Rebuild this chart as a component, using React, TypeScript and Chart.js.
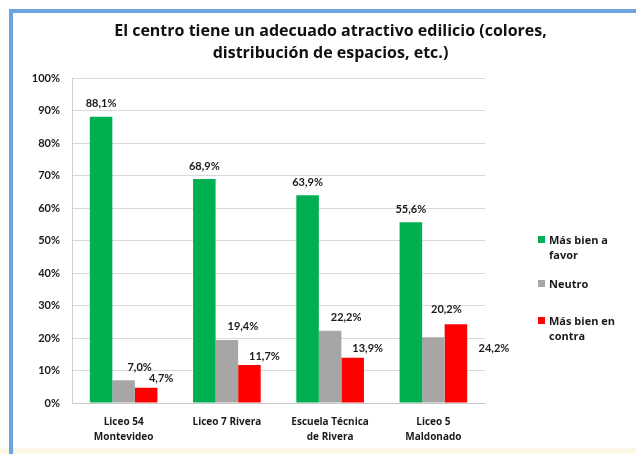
import React, { useEffect, useRef } from "react";
import { Chart, registerables } from "chart.js";

Chart.register(...registerables);

const CATEGORIES: string[][] = [
  ["Liceo 54", "Montevideo"],
  ["Liceo 7 Rivera"],
  ["Escuela Técnica", "de Rivera"],
  ["Liceo 5", "Maldonado"],
];
const SERIES_NAMES = ["Más bien a favor", "Neutro", "Más bien en contra"];
const FAVOR = [88.1, 68.9, 63.9, 55.6];
const NEUTRO = [7.0, 19.4, 22.2, 20.2];
const CONTRA = [4.7, 11.7, 13.9, 24.2];
const Y_TICKS = [0, 10, 20, 30, 40, 50, 60, 70, 80, 90, 100];
const TITLE_LINES = [
  "El centro tiene un adecuado atractivo edilicio (colores,",
  "distribución de espacios, etc.)",
];

const COLORS = ["#00b050", "#a6a6a6", "#ff0000"];
const FONT = "Lato, 'Open Sans', sans-serif";
const WIDE_FONT = "'Open Sans', Lato, sans-serif";

const fmt = (v: number) => v.toFixed(1).replace(".", ",") + "%";

const labelPlugin = {
  id: "barLabels",
  afterDatasetsDraw(chart: any) {
    const ctx = chart.ctx;
    ctx.save();
    ctx.font = `bold 11px ${FONT}`;
    ctx.fillStyle = "#1a1a1a";
    ctx.textAlign = "center";
    ctx.textBaseline = "middle";
    chart.data.datasets.forEach((ds: any, di: number) => {
      const meta = chart.getDatasetMeta(di);
      meta.data.forEach((bar: any, i: number) => {
        const v = ds.data[i];
        const last = i === ds.data.length - 1;
        let dx = 0;
        let dy = -13;
        if (di === 1) {
          dx = 16;
          dy = last ? -28 : -13;
          if (last) dx = 13;
        } else if (di === 2) {
          dx = 15;
          dy = -9;
          if (last) {
            dx = 38;
            dy = 24;
          }
        }
        ctx.fillText(fmt(v), bar.x + dx, bar.y + dy);
      });
    });
    ctx.restore();
  },
};

export default function App() {
  const ref = useRef<HTMLCanvasElement | null>(null);

  useEffect(() => {
    document.body.style.margin = "0";
    if (!ref.current) return;
    const chart = new Chart(ref.current, {
      type: "bar",
      data: {
        labels: CATEGORIES,
        datasets: [FAVOR, NEUTRO, CONTRA].map((d, i) => ({
          label: SERIES_NAMES[i],
          data: d,
          backgroundColor: COLORS[i],
          borderWidth: 0,
          categoryPercentage: 0.655,
          barPercentage: 1,
        })),
      },
      options: {
        animation: false,
        responsive: false,
        maintainAspectRatio: false,
        layout: { padding: { top: 78, right: 151, left: 0, bottom: 0 } },
        plugins: {
          legend: { display: false },
          title: { display: false },
          tooltip: { enabled: false },
        },
        scales: {
          x: {
            grid: { display: false, drawTicks: false },
            border: { display: true, color: "#c8c8c8" },
            ticks: {
              padding: 12,
              color: "#1a1a1a",
              font: { family: WIDE_FONT, size: 10, weight: "bold", lineHeight: 1.5 },
              maxRotation: 0,
              autoSkip: false,
            },
            afterFit: (s: any) => {
              s.height = 51;
            },
          },
          y: {
            min: 0,
            max: 100,
            afterBuildTicks: (s: any) => {
              s.ticks = Y_TICKS.map((v) => ({ value: v }));
            },
            grid: { color: "#d9d9d9", drawTicks: false },
            border: { display: true, color: "#d0d0d0" },
            ticks: {
              padding: 12,
              color: "#1a1a1a",
              font: { family: FONT, size: 11, weight: "bold" },
              callback: (v: any) => v + "%",
            },
            afterFit: (s: any) => {
              s.width = 72;
            },
          },
        },
      },
      plugins: [labelPlugin],
    });
    return () => chart.destroy();
  }, []);

  return (
    <div
      style={{
        position: "fixed",
        left: 0,
        top: 0,
        width: 636,
        height: 454,
        background: "#ffffff",
        overflow: "hidden",
        fontFamily: WIDE_FONT,
      }}
    >
      <div
        style={{
          position: "absolute",
          left: 0,
          top: 448,
          width: 636,
          height: 6,
          background: "#fdf8e6",
        }}
      />
      <div
        style={{
          position: "absolute",
          left: 9,
          top: 9,
          width: 636,
          height: 454,
          borderLeft: "4px solid #6fa3de",
          borderTop: "4px solid #6fa3de",
          boxSizing: "border-box",
        }}
      />
      <canvas
        ref={ref}
        width={636}
        height={454}
        style={{ position: "absolute", left: 0, top: 0 }}
      />
      <div
        style={{
          position: "absolute",
          left: 25,
          top: 19,
          width: 611,
          textAlign: "center",
          fontWeight: "bold",
          fontSize: 16,
          lineHeight: "22px",
          color: "#111",
        }}
      >
        {TITLE_LINES.map((t, i) => (
          <div key={i}>{t}</div>
        ))}
      </div>
      <div
        style={{
          position: "absolute",
          left: 538,
          top: 232,
          width: 92,
          fontSize: 11,
          fontWeight: "bold",
          color: "#1a1a1a",
          lineHeight: "15px",
        }}
      >
        {SERIES_NAMES.map((n, i) => (
          <div
            key={i}
            style={{
              display: "flex",
              alignItems: "flex-start",
              marginBottom: i === 0 ? 14 : 22,
            }}
          >
            <span
              style={{
                display: "inline-block",
                width: 7,
                height: 7,
                background: COLORS[i],
                marginTop: 4,
                marginRight: 4,
                flex: "0 0 auto",
              }}
            />
            <span style={{ width: 78 }}>{n}</span>
          </div>
        ))}
      </div>
    </div>
  );
}
